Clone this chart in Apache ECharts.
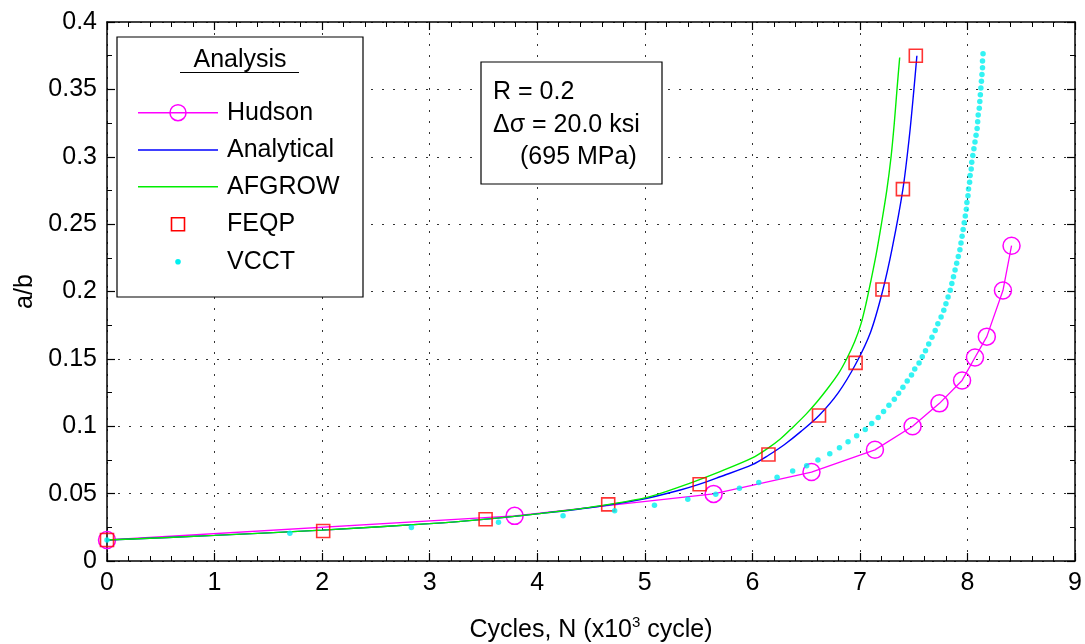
<!DOCTYPE html>
<html>
<head>
<meta charset="utf-8">
<script src="https://cdn.jsdelivr.net/npm/echarts@6/dist/echarts.min.js"></script>
<style>html,body{margin:0;padding:0;background:#fff}#c{width:1085px;height:644px}</style>
</head>
<body>
<div id="c"></div>
<script>
// ---- data (N in x10^3 cycles, a/b) ----
const hudson = [[0,0.0156],[3.79,0.0335],[5.64,0.0498],[6.55,0.066],[7.14,0.0825],[7.49,0.1],[7.74,0.117],[7.95,0.134],[8.07,0.151],[8.18,0.1665],[8.33,0.2007],[8.41,0.234]];
const analytical = [[0,0.0156],[1,0.019],[2,0.0229],[3,0.0277],[3.5,0.0309],[4,0.035],[4.5,0.0397],[5.0,0.0462],[5.33,0.0527],[5.51,0.057],[5.7,0.0625],[6.0,0.0715],[6.15,0.0785],[6.3,0.0865],[6.45,0.096],[6.62,0.108],[6.8,0.125],[6.96,0.146],[7.1,0.17],[7.21,0.2],[7.3,0.232],[7.4,0.276],[7.46,0.315],[7.5,0.348],[7.53,0.375]];
const afgrow = [[0,0.0156],[1,0.019],[2,0.0229],[3,0.0277],[3.5,0.0309],[4,0.035],[4.5,0.04],[5.0,0.0468],[5.33,0.0552],[5.7,0.0664],[6.0,0.0765],[6.15,0.084],[6.26,0.0905],[6.38,0.0995],[6.5,0.109],[6.6,0.118],[6.7,0.128],[6.8,0.139],[6.88,0.1505],[6.95,0.1625],[7.01,0.176],[7.06,0.192],[7.1,0.207],[7.15,0.227],[7.2,0.25],[7.25,0.275],[7.29,0.3],[7.32,0.325],[7.345,0.35],[7.37,0.3737]];
const feqp = [[0,0.0156],[2.01,0.0223],[3.52,0.031],[4.66,0.042],[5.51,0.057],[6.15,0.079],[6.62,0.108],[6.96,0.147],[7.21,0.2015],[7.4,0.276],[7.52,0.375]];
const vcct = [[0,0.0156],[1.70,0.0206],[2.83,0.0248],[3.64,0.0288],[4.24,0.0335],[4.72,0.0372],[5.09,0.0414],[5.40,0.0459],[5.66,0.0496],[5.88,0.054],[6.06,0.0582],[6.23,0.0622],[6.375,0.0667],[6.505,0.0706],[6.61,0.075],
 [6.72,0.0795],[6.81,0.084],[6.89,0.0885],[6.97,0.093],[7.05,0.0975],[7.11,0.102],[7.17,0.1065],[7.22,0.111],[7.27,0.1155],[7.32,0.12],[7.36,0.1245],[7.40,0.129],[7.44,0.1335],[7.48,0.138],[7.51,0.1425],[7.55,0.147],[7.58,0.1515],[7.61,0.156],[7.64,0.161],[7.67,0.166],[7.70,0.171],[7.725,0.176],[7.755,0.181],[7.78,0.186],[7.80,0.191],[7.82,0.196],[7.84,0.201],[7.855,0.206],[7.87,0.211],[7.885,0.216],[7.90,0.221],[7.915,0.226],[7.93,0.231],[7.94,0.236],[7.95,0.241],[7.96,0.246],[7.97,0.251],[7.98,0.256],[7.99,0.261],[7.995,0.266],[8.005,0.271],[8.01,0.276],[8.02,0.281],[8.025,0.286],[8.035,0.291],[8.04,0.296],[8.05,0.301],[8.06,0.306],[8.07,0.311],[8.08,0.316],[8.09,0.321],[8.095,0.326],[8.10,0.331],[8.11,0.336],[8.115,0.341],[8.12,0.346],[8.125,0.351],[8.13,0.356],[8.135,0.361],[8.14,0.366],[8.14,0.371],[8.145,0.3765]];
const legendNames = ['Hudson','Analytical','AFGROW','FEQP','VCCT'];
const legendTitle = 'Analysis';
const noteLines = ['R = 0.2','\u0394\u03c3 = 20.0 ksi','(695 MPa)'];
const xTitle = 'Cycles, N (x10{sup|3} cycle)';
const yTitle = 'a/b';

const FONT = 'Liberation Sans, Arial, Helvetica, sans-serif';
const FS = 25;
const grid = {left:107, right:10, top:22, bottom:83, containLabel:false, outerBoundsMode:'none'};

function axisCommon(show) {
  return {
    axisLine:{show:true, onZero:false, lineStyle:{color:'#000', width:1.5}},
    axisTick:{show:true, inside:true, length:8, lineStyle:{color:'#000', width:1.2}},
    axisLabel:{show:show, color:'#000', fontSize:FS, fontFamily:FONT, margin:10},
  };
}

const chart = echarts.init(document.getElementById('c'), null, {renderer:'canvas'});
const option = {
  animation:false,
  backgroundColor:'#fff',
  grid:grid,
  xAxis:[
    Object.assign({type:'value', min:0, max:9, interval:1, position:'bottom',
      splitLine:{show:true, lineStyle:{color:'#333', type:[2,9], width:1}},
      name:xTitle, nameLocation:'middle', nameGap:54,
      nameTextStyle:{color:'#000', fontSize:FS, fontFamily:FONT, rich:{sup:{fontSize:15, fontFamily:FONT, color:'#000', verticalAlign:'top', padding:[0,0,16,0]}}}
    }, axisCommon(true), {minorTick:{show:true, splitNumber:5, length:5, lineStyle:{color:'#000'}}}),
    Object.assign({type:'value', min:0, max:9, interval:1, position:'top', splitLine:{show:false}}, axisCommon(false), {minorTick:{show:true, splitNumber:5, length:5, lineStyle:{color:'#000'}}})
  ],
  yAxis:[
    Object.assign({type:'value', min:0, max:0.4, interval:0.05, position:'left',
      splitLine:{show:true, lineStyle:{color:'#333', type:[2,9], width:1}},
      name:yTitle, nameLocation:'middle', nameGap:68, nameRotate:90,
      nameTextStyle:{color:'#000', fontSize:FS, fontFamily:FONT}
    }, axisCommon(true), {minorTick:{show:true, splitNumber:2, length:5, lineStyle:{color:'#000'}}}),
    Object.assign({type:'value', min:0, max:0.4, interval:0.05, position:'right', splitLine:{show:false}}, axisCommon(false), {minorTick:{show:true, splitNumber:2, length:5, lineStyle:{color:'#000'}}})
  ],
  series:[
    {name:legendNames[0], type:'line', data:hudson, symbol:'circle', symbolSize:17, showAllSymbol:true,
      lineStyle:{color:'#ff00ff', width:1.3}, itemStyle:{color:'rgba(0,0,0,0)', borderColor:'#ff00ff', borderWidth:1.5}, z:2},
    {name:legendNames[1], type:'line', data:analytical, showSymbol:false, symbol:'none', smooth:0.3,
      lineStyle:{color:'#0000ff', width:1.4}, z:3},
    {name:legendNames[2], type:'line', data:afgrow, showSymbol:false, symbol:'none', smooth:0.3,
      lineStyle:{color:'#00ee00', width:1.4}, z:4},
    {name:legendNames[3], type:'scatter', data:feqp, symbol:'rect', symbolSize:13,
      itemStyle:{color:'rgba(0,0,0,0)', borderColor:'#ff0000', borderWidth:1.6}, z:5},
    {name:legendNames[4], type:'scatter', data:vcct, symbol:'circle', symbolSize:5.5,
      itemStyle:{color:'#00f0f0'}, z:6}
  ],
  graphic:[]
};

// legend box (drawn as graphics)
const L = {x:117, y:37, w:246, h:260};
const g = option.graphic;
g.push({type:'rect', shape:{x:L.x, y:L.y, width:L.w, height:L.h}, style:{fill:'#fff', stroke:'#000', lineWidth:1.2}, z:100});
g.push({type:'text', x:240, y:60, style:{text:legendTitle, fill:'#000', font:FS+'px '+FONT, textAlign:'center', textVerticalAlign:'middle'}, z:101});
g.push({type:'line', shape:{x1:180, y1:72.5, x2:299, y2:72.5}, style:{stroke:'#000', lineWidth:1.2}, z:101});
const rowY = [112.7,150,186.7,224.3,261.7];
const lineCols = ['#ff00ff','#0000ff','#00ee00'];
for (let i=0;i<5;i++){
  const yy = rowY[i];
  if (i<3) g.push({type:'line', shape:{x1:138, y1:yy, x2:218, y2:yy}, style:{stroke:lineCols[i], lineWidth:1.4}, z:101});
  if (i===0) g.push({type:'circle', shape:{cx:178, cy:yy, r:8}, style:{fill:'rgba(0,0,0,0)', stroke:'#ff00ff', lineWidth:1.5}, z:102});
  if (i===3) g.push({type:'rect', shape:{x:171.5, y:yy-6.5, width:13, height:13}, style:{fill:'rgba(0,0,0,0)', stroke:'#ff0000', lineWidth:1.6}, z:102});
  if (i===4) g.push({type:'circle', shape:{cx:178, cy:yy, r:2.8}, style:{fill:'#00f0f0'}, z:102});
  g.push({type:'text', x:227, y:yy, style:{text:legendNames[i], fill:'#000', font:FS+'px '+FONT, textVerticalAlign:'middle'}, z:101});
}
// annotation box
g.push({type:'rect', shape:{x:481, y:62, width:181, height:122}, style:{fill:'#fff', stroke:'#000', lineWidth:1.2}, z:100});
const noteX = [493,493,520], noteY = [91.7,125,156.7];
for (let i=0;i<3;i++) g.push({type:'text', x:noteX[i], y:noteY[i], style:{text:noteLines[i], fill:'#000', font:FS+'px '+FONT, textVerticalAlign:'middle'}, z:101});

chart.setOption(option);
</script>
</body>
</html>
